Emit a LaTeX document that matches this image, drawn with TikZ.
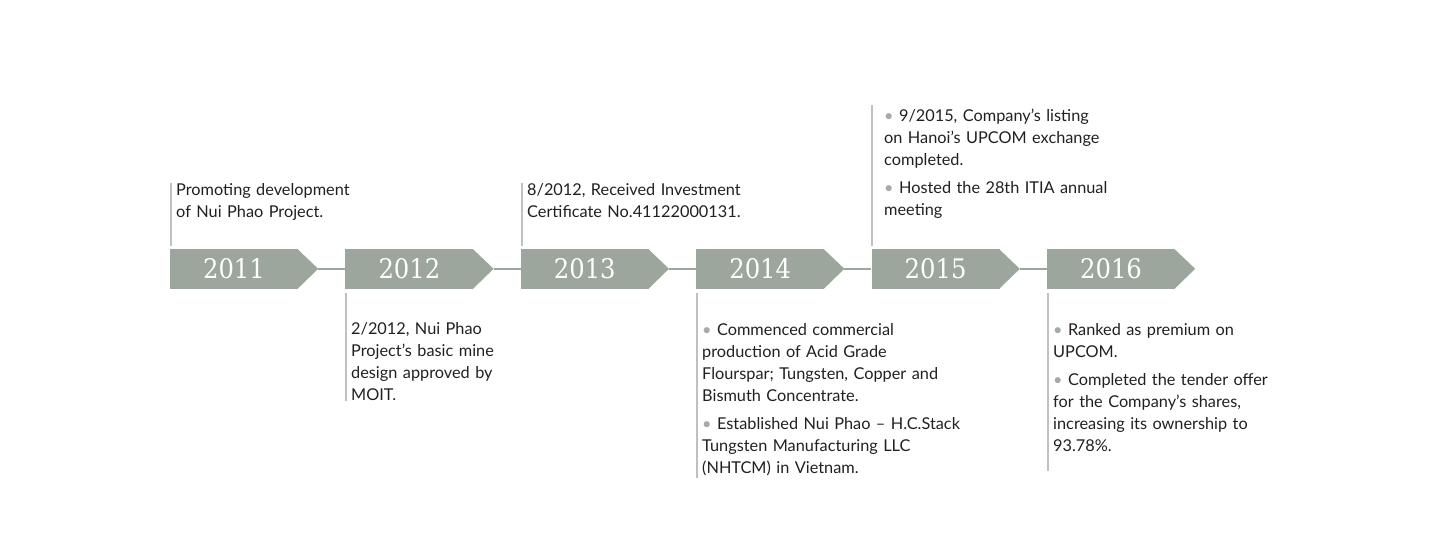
\documentclass[tikz,border=0pt]{standalone}
\usepackage{fontspec}
\setsansfont{Lato}
\newfontfamily\yearfont{DejaVu Serif Condensed}
\usepackage{xcolor}
\usetikzlibrary{positioning, calc}
\definecolor{yearfill}{HTML}{9CA69D}
\definecolor{stemgray}{HTML}{BCC2BD}
\definecolor{dotgray}{HTML}{A3ABA4}
\definecolor{bodytext}{HTML}{231F20}
\newcommand{\dotb}{{\color{dotgray}•}\ }

\begin{document}
\begin{tikzpicture}[
    x=1pt, y=-1pt,
    yearbox/.style={fill=yearfill, minimum width=128pt, minimum height=40pt, inner sep=0pt, text=white, font=\yearfont\fontsize{27}{27}\selectfont},
    link/.style={draw=yearfill, line width=2pt},
    stem/.style={draw=stemgray, line width=2pt},
    note/.style={anchor=base west, text width=300pt, align=left, inner sep=0pt, text=bodytext, font=\sffamily\fontsize{16.3}{22}\selectfont},
]
    \useasboundingbox (0,0) rectangle (1434,540);

    % year arrows
    \foreach \yr [count=\i from 0] in {2011,2012,2013,2014,2015,2016} {
        \node[yearbox] (y\yr) at (234+175.4*\i, 269) {\yr};
        \fill[yearfill] ([xshift=-1pt]y\yr.north east) -- ++(21,20) -- ([xshift=-1pt]y\yr.south east) -- cycle;
        \coordinate (t\yr) at ($(y\yr.east)+(20,0)$);
    }
    \foreach \a/\b in {2011/2012, 2012/2013, 2013/2014, 2014/2015, 2015/2016}
        \draw[link] (t\a) -- (y\b.west);

    % stems
    \draw[stem] (y2011.north west) ++(1,-3) -- ++(0,-63);
    \draw[stem] (y2013.north west) ++(1,-3) -- ++(0,-63);
    \draw[stem] (y2015.north west) ++(1,-3) -- ++(0,-141);
    \draw[stem] (y2012.south west) ++(1,4) -- ++(0,108);
    \draw[stem] (y2014.south west) ++(1,4) -- ++(0,185);
    \draw[stem] (y2016.south west) ++(1,4) -- ++(0,178);

    % notes above
    \node[note] (n2011) at (176,196) {Promoting development\\of Nui Phao Project.};
    \node[note] (n2013) at (527,196) {8/2012, Received Investment\\Certificate No.41122000131.};
    \node[note] (n2015) at (884,121.5) {\dotb 9/2015, Company’s listing\\on Hanoi’s UPCOM exchange\\completed.\\[6pt]\dotb Hosted the 28th ITIA annual\\meeting};

    % notes below
    \node[note] (n2012) at (351,334) {2/2012, Nui Phao\\Project’s basic mine\\design approved by\\MOIT.};
    \node[note] (n2014) at (702,335) {\dotb Commenced commercial\\production of Acid Grade\\Flourspar; Tungsten, Copper and\\Bismuth Concentrate.\\[6pt]\dotb Established Nui Phao – H.C.Stack\\Tungsten Manufacturing LLC\\(NHTCM) in Vietnam.};
    \node[note] (n2016) at (1053,335) {\dotb Ranked as premium on\\UPCOM.\\[6pt]\dotb Completed the tender offer\\for the Company’s shares,\\increasing its ownership to\\93.78\%.};
\end{tikzpicture}
\end{document}
